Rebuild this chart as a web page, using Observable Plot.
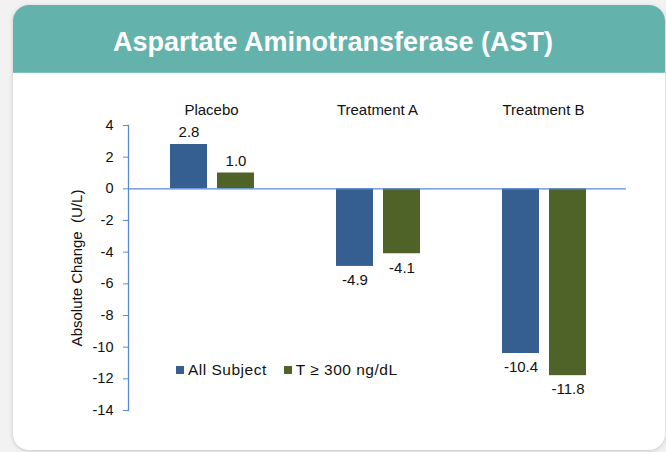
<!DOCTYPE html>
<html>
<head>
<meta charset="utf-8">
<script src="https://cdn.jsdelivr.net/npm/d3@7"></script>
<script src="https://cdn.jsdelivr.net/npm/@observablehq/plot@0.6"></script>
<style>
  html, body { margin: 0; padding: 0; }
  body { width: 666px; height: 452px; overflow: hidden; background: #f2f2f2; position: relative;
         font-family: "Liberation Sans", Arial, sans-serif; }
  #card { position: absolute; left: 13px; top: 5px; width: 652px; height: 445px; background: #fff;
          border-radius: 16px; box-shadow: 0 1px 4px rgba(0,0,0,0.18); overflow: hidden; }
  #header { position: absolute; left: 0; top: 0; width: 100%; height: 67px; background: #63b2ac;
            border-bottom: 1px solid #7cc3bd; }
  #title { position: absolute; left: 0; top: 24px; width: 666px; text-align: center; color: #fff;
           font-weight: bold; font-size: 27px; line-height: 36px; }
  #chart { position: absolute; left: 0; top: 90px; }
  #legend { position: absolute; top: 360px; left: 176px; display: flex; font-size: 15.5px; letter-spacing: 0.5px;
            color: #111; line-height: 20px; }
  .item { display: flex; align-items: center; margin-right: 17px; }
  .sw { width: 8px; height: 8px; margin-right: 4px; }
</style>
</head>
<body>
<div id="card"><div id="header"></div></div>
<div id="title">Aspartate Aminotransferase (AST)</div>
<div id="chart"></div>
<div id="legend"></div>
<script>
const groups = ["Placebo", "Treatment A", "Treatment B"];
const series = ["All Subject", "T \u2265 300 ng/dL"];
const allSubject = [2.8, -4.9, -10.4];
const tHigh = [1.0, -4.1, -11.8];
const yTicks = [4, 2, 0, -2, -4, -6, -8, -10, -12, -14];
const colors = ["#355e91", "#4f6228"];
const yLabel = "Absolute Change\u00a0 (U/L)";

const rows = [];
groups.forEach((g, i) => {
  rows.push({group: g, series: series[0], value: allSubject[i]});
  rows.push({group: g, series: series[1], value: tHigh[i]});
});
const s0 = rows.filter(d => d.series === series[0]);
const s1 = rows.filter(d => d.series === series[1]);
const fmt = v => v.toFixed(1);
const font = {fontFamily: "'Liberation Sans', Arial, sans-serif"};

function valueLabels(data, dx) {
  return [
    Plot.text(data.filter(d => d.value >= 0), {x: "group", y: "value", text: d => fmt(d.value), dx, dy: -12, fontSize: 15, fill: "#111", style: "letter-spacing:0.6px"}),
    Plot.text(data.filter(d => d.value < 0), {x: "group", y: "value", text: d => fmt(d.value), dx, dy: 14, fontSize: 15, fill: "#111", style: "letter-spacing:0.6px"})
  ];
}

const chart = Plot.plot({
  width: 666,
  height: 340,
  marginTop: 35,
  marginBottom: 20,
  marginLeft: 128,
  marginRight: 40,
  style: {background: "transparent", ...font, fontSize: "14px", color: "#111"},
  x: {domain: groups, padding: 0, axis: null},
  y: {domain: [-14, 4], axis: null},
  color: {domain: series, range: colors},
  marks: [
    Plot.barY(s0, {x: "group", y: "value", fill: colors[0], insetLeft: 42, insetRight: 87}),
    Plot.barY(s1, {x: "group", y: "value", fill: colors[1], insetLeft: 89, insetRight: 40}),
    Plot.ruleY([0], {stroke: "#5a8ad6", strokeWidth: 1.3}),
    Plot.frame({anchor: "left", stroke: "#5a8ad6", strokeWidth: 1.3}),
    Plot.axisY({ticks: yTicks, tickFormat: d => String(d), tickSize: 5, tickPadding: 10, stroke: "#5a8ad6", fontSize: 14.5, fill: "#111", label: null, style: "letter-spacing:0.4px"}),
    Plot.axisX({anchor: "top", tickSize: 0, tickPadding: 11, fontSize: 15, fill: "#111", label: null, style: "letter-spacing:0.5px"}),
    ...valueLabels(s0, -22.5),
    ...valueLabels(s1, 24.5),
    Plot.text([yLabel], {frameAnchor: "left", textAnchor: "middle", rotate: -90, dx: -51, fontSize: 15, fill: "#111"})
  ]
});
document.getElementById("chart").appendChild(chart);

const legend = document.getElementById("legend");
series.forEach((s, i) => {
  const item = document.createElement("div");
  item.className = "item";
  const sw = document.createElement("span");
  sw.className = "sw";
  sw.style.background = colors[i];
  const t = document.createElement("span");
  t.textContent = s;
  item.appendChild(sw);
  item.appendChild(t);
  legend.appendChild(item);
});
</script>
</body>
</html>
